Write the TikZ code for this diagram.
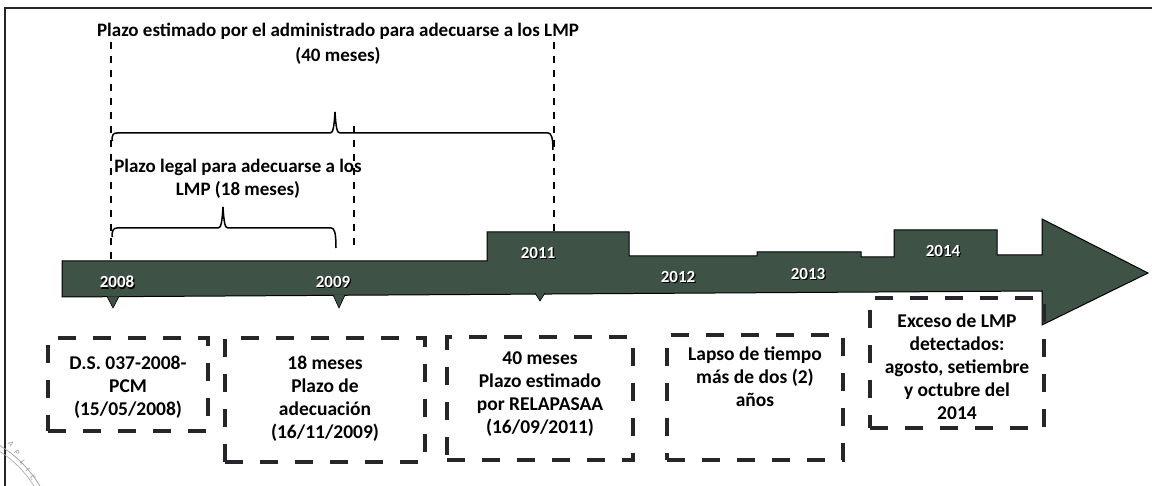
\documentclass[tikz,border=0pt]{standalone}
\usepackage{fontspec}
\setmainfont{Carlito}
\definecolor{barcol}{RGB}{62,82,70}
\definecolor{boxline}{RGB}{38,38,42}
\tikzset{
  lbl/.style={font=\bfseries\fontsize{19}{23}\selectfont, inner sep=0pt, align=center},
  boxtxt/.style={font=\bfseries\fontsize{19.5}{23}\selectfont, inner sep=0pt, align=center},
  yr/.style={font=\bfseries\fontsize{17}{20}\selectfont, text=white, inner sep=0pt},
  yrsh/.style={font=\bfseries\fontsize{17}{20}\selectfont, text=black, inner sep=0pt},
  dbox/.style={draw=boxline, line width=4pt, dash pattern=on 18pt off 17pt, inner sep=0pt, rectangle},
  guide/.style={draw=black, line width=1.4pt, dash pattern=on 7pt off 7pt},
  brc/.style={draw=black, line width=1.5pt},
  pointer/.style={fill=barcol, draw=black, line width=0.6pt},
  stampletter/.style={gray!80, font=\fontsize{8}{9}\selectfont, rotate=-55, inner sep=0pt},
}
\begin{document}
\begin{tikzpicture}[x=1pt, y=-1pt]
\useasboundingbox (0,0) rectangle (1152,486);
\fill[white] (0,0) rectangle (1152,486);

% frame
\draw[line width=1.6pt, black!85] (5,486) -- (5,8) -- (1152,8);

% stamp (partial)
\begin{scope}
\clip (0,0) rectangle (1152,486);
\draw[gray!70, line width=0.8pt] (-60,545) circle (116);
\draw[gray!70, line width=0.6pt] (-60,545) circle (111);
\foreach \c/\x/\y [count=\i] in {A/11/444, P/17/453, L/23/462, I/28/470, C/33/478}{
  \node[stampletter] (st\i) at (\x,\y) {\c};
}
\end{scope}

% top labels
\node[lbl] (t1) at (338,31) {Plazo estimado por el administrado para adecuarse a los LMP};
\node[lbl] (t2) at (338,56) {(40 meses)};
\node[lbl] (t3) at (238,179) {Plazo legal para adecuarse a los\\LMP (18 meses)};

% guide coordinates
\coordinate (g1a) at (111,42);  \coordinate (g1b) at (111,261);
\coordinate (g2a) at (554,42);  \coordinate (g2b) at (554,232);
\coordinate (g3a) at (354,126); \coordinate (g3b) at (354,246);
\draw[guide] (g1a) -- (g1b);
\draw[guide] (g2a) -- (g2b);
\draw[guide] (g3a) -- (g3b);

% braces
\coordinate (bA) at (112,141); \coordinate (bT) at (335,112); \coordinate (bB) at (553,150);
\draw[brc] (bA) .. controls (112,135) and (113,133) .. (117,133) -- (330,133)
  .. controls (333,133) and (334,128) .. (bT) .. controls (336,128) and (337,133) .. (340,133)
  -- (548,133) .. controls (551,133) and (553,137) .. (bB);
\coordinate (sA) at (112,237); \coordinate (sT) at (223,207); \coordinate (sB) at (336,248);
\draw[brc] (sA) .. controls (112,231) and (113,228) .. (117,228) -- (218,228)
  .. controls (221,228) and (222,223) .. (sT) .. controls (224,223) and (225,228) .. (228,228)
  -- (331,228) .. controls (334,228) and (336,231) .. (sB);

% timeline arrow
\draw[fill=barcol, draw=black, line width=1pt]
  (62,261) -- (487,261) -- (487,232) -- (629,232) -- (629,256) -- (757,256) -- (757,252)
  -- (861,252) -- (861,257) -- (894,257) -- (894,230) -- (997,230) -- (997,255)
  -- (1042,255) -- (1042,219) -- (1148,273) -- (1042,325) -- (1042,291) -- (62,297) -- cycle;
\fill[barcol] (1040,257) rectangle (1044,289);

% pointers
\draw[pointer] (107,296.5) -- (113,308) -- (119,296.5);
\draw[pointer] (333,295) -- (339,308) -- (345,295);
\draw[pointer] (535,293) -- (540,301) -- (545,293);

% year labels
\foreach \n/\x/\y in {2008/117/282, 2009/333/282, 2011/538/253, 2012/678/277, 2013/808/274, 2014/943/251}{
  \node[yrsh] (s\n) at (\x+1.2,\y+1.2) {\n};
  \node[yr] (y\n) at (\x,\y) {\n};
}

% dashed boxes
\node[dbox, minimum width=160pt, minimum height=93pt] (b1) at (128,384.5) {};
\node[dbox, minimum width=200pt, minimum height=124pt] (b2) at (325,400) {};
\node[dbox, minimum width=186pt, minimum height=123pt] (b3) at (540,398.5) {};
\node[dbox, minimum width=176pt, minimum height=125pt] (b4) at (755,397.5) {};
\node[dbox, minimum width=174pt, minimum height=130pt] (b5) at (957,363) {};

% box texts
\node[boxtxt] (x1) at (128,387) {D.S. 037-2008-\\PCM\\(15/05/2008)};
\node[boxtxt] (x2) at (325,398.5) {18 meses\\Plazo de\\adecuación\\(16/11/2009)};
\node[boxtxt] (x3) at (540,394.5) {40 meses\\Plazo estimado\\por RELAPASAA\\(16/09/2011)};
\node[boxtxt] (x4) at (755,376.5) {Lapso de tiempo\\más de dos (2)\\años};
\node[boxtxt] (x5) at (957,367) {Exceso de LMP\\detectados:\\agosto, setiembre\\y octubre del\\2014};
\end{tikzpicture}
\end{document}
